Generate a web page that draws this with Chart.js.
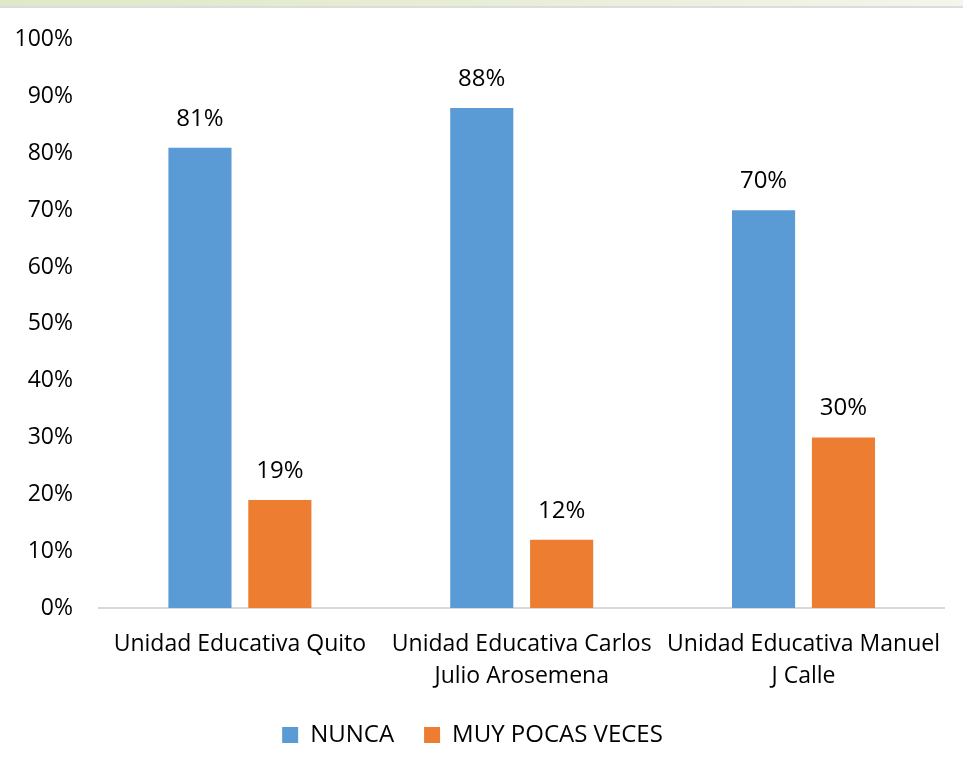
<!DOCTYPE html>
<html>
<head>
<meta charset="utf-8">
<script src="https://cdn.jsdelivr.net/npm/chart.js@4"></script>
<style>
    html, body { margin: 0; padding: 0; background: #fff; }
    .band {
        position: absolute; left: 0; top: 0; width: 963px; height: 6px;
        background: linear-gradient(90deg, #dfe8c8, #e9efd9 60%, #f3f6ec);
        border-bottom: 2px solid #dcdcdc;
    }
    .chart-container { position: relative; width: 963px; height: 771px; }
</style>
</head>
<body>
<div class="chart-container">
    <canvas id="schoolChart" width="963" height="771"></canvas>
</div>
<div class="band"></div>
<script>
const categories = [
    ["Unidad Educativa Quito"],
    ["Unidad Educativa Carlos", "Julio Arosemena"],
    ["Unidad Educativa Manuel", "J Calle"],
];
const nunca = [81, 88, 70];
const muyPocasVeces = [19, 12, 30];
const yTicks = [0, 10, 20, 30, 40, 50, 60, 70, 80, 90, 100];

const fontFamily = "'Open Sans', 'Noto Sans', sans-serif";

// draws the % value above every bar
const valueLabels = {
    id: "valueLabels",
    afterDatasetsDraw(chart) {
        const ctx = chart.ctx;
        ctx.save();
        ctx.font = "24px " + fontFamily;
        ctx.fillStyle = "#000";
        ctx.textAlign = "center";
        ctx.textBaseline = "middle";
        chart.data.datasets.forEach((ds, i) => {
            chart.getDatasetMeta(i).data.forEach((bar, j) => {
                ctx.fillText(ds.data[j] + "%", bar.x, bar.y - 29);
            });
        });
        ctx.restore();
    },
};

let ctx = document.getElementById("schoolChart").getContext("2d");

window.schoolChart = new Chart(ctx, {
    type: "bar",
    data: {
        labels: categories,
        datasets: [
            {
                label: "NUNCA",
                data: nunca,
                backgroundColor: "rgb(91, 155, 213)",
                categoryPercentage: 0.567,
                barPercentage: 0.79,
            },
            {
                label: "MUY POCAS VECES",
                data: muyPocasVeces,
                backgroundColor: "rgb(237, 125, 49)",
                categoryPercentage: 0.567,
                barPercentage: 0.79,
            },
        ],
    },
    options: {
        responsive: false,
        animation: false,
        layout: {
            padding: { top: 36, right: 18, left: 0, bottom: 14 },
        },
        scales: {
            y: {
                min: 0,
                max: 100,
                afterBuildTicks: (scale) => {
                    scale.ticks = yTicks.map((v) => ({ value: v }));
                },
                afterFit: (scale) => {
                    scale.width = 99;
                },
                grid: { display: false, drawTicks: false },
                border: { display: false },
                ticks: {
                    padding: 26,
                    color: "#000",
                    font: { family: fontFamily, size: 23 },
                    callback: (v) => v + "%",
                },
            },
            x: {
                afterFit: (scale) => {
                    scale.height = 85;
                },
                grid: { display: false, drawTicks: false },
                border: { display: true, color: "#d9d9d9", width: 2 },
                ticks: {
                    padding: 20,
                    color: "#000",
                    maxRotation: 0,
                    autoSkip: false,
                    font: { family: fontFamily, size: 23, lineHeight: 1.39 },
                },
            },
        },
        plugins: {
            tooltip: { enabled: false },
            legend: {
                position: "bottom",
                labels: {
                    boxWidth: 16,
                    boxHeight: 16,
                    padding: 30,
                    color: "#000",
                    font: { family: fontFamily, size: 24 },
                },
            },
        },
    },
    plugins: [valueLabels],
});
</script>
</body>
</html>
